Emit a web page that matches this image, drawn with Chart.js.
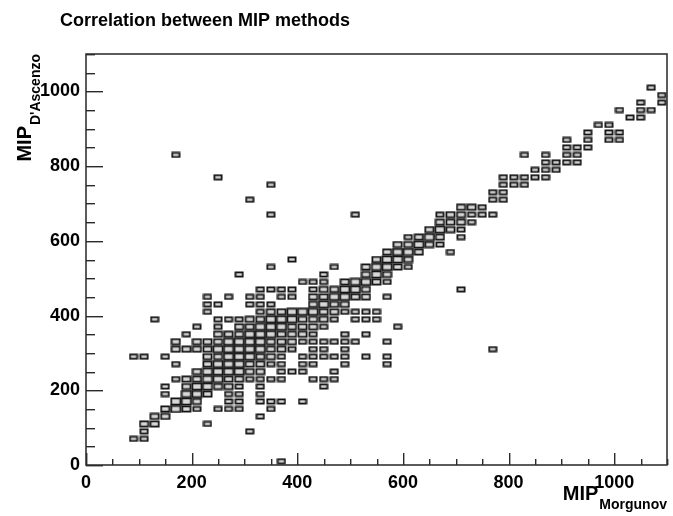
<!DOCTYPE html>
<html>
<head>
<meta charset="utf-8">
<script src="https://cdn.jsdelivr.net/npm/chart.js@4.4.1/dist/chart.umd.min.js"></script>
<style>
  html, body { margin: 0; padding: 0; background: #ffffff; }
  canvas { display: block; }
</style>
</head>
<body>
<canvas id="c" width="673" height="516"></canvas>
<script>
// ---- Data: 2D histogram bins (bin centres, 20 x 20 bins) and box weight ----
const titleText = 'Correlation between MIP methods';
const xTickLabels = [0, 200, 400, 600, 800, 1000];
const yTickLabels = [0, 200, 400, 600, 800, 1000];

const binX = [
  370,
  90, 110,
  110, 310,
  110, 130, 230,
  130, 150, 330,
  150, 170, 190, 210, 250, 270, 290, 350,
  170, 190, 210, 270, 290, 330, 350, 370, 410,
  150, 190, 210, 230, 270, 290, 330,
  150, 190, 210, 230, 250, 270, 290, 330, 450,
  170, 190, 210, 230, 250, 270, 290, 310, 330, 350, 370, 430, 450, 470,
  210, 230, 250, 270, 290, 310, 330, 370, 390, 410, 470,
  170, 230, 250, 270, 290, 310, 330, 350, 370, 410, 430, 490, 570,
  90, 110, 150, 230, 250, 270, 290, 310, 330, 350, 370, 410, 430, 450, 470, 490, 530, 570,
  170, 190, 210, 230, 250, 270, 290, 310, 330, 350, 370, 390, 430, 450, 490, 770,
  170, 210, 230, 250, 270, 290, 310, 330, 350, 370, 390, 410, 430, 450, 470, 490, 510, 570,
  190, 250, 270, 290, 310, 330, 350, 370, 390, 410, 430, 490, 530,
  210, 250, 290, 310, 330, 350, 370, 390, 410, 430, 450, 590,
  130, 250, 270, 290, 310, 330, 350, 370, 390, 410, 430, 450, 470, 510, 530, 550,
  230, 330, 350, 370, 390, 410, 430, 450, 470, 490, 510, 530, 550,
  230, 250, 310, 330, 350, 430, 450, 470, 490,
  230, 270, 310, 330, 370, 390, 430, 450, 470, 490, 510, 530, 570,
  330, 350, 370, 390, 430, 450, 470, 490, 510, 530, 710,
  410, 430, 450, 490, 510, 530, 550, 570,
  290, 450, 530, 550, 570,
  350, 470, 530, 550, 570, 590, 610,
  390, 550, 570, 590, 610,
  570, 590, 610, 630, 690,
  590, 610, 630, 650, 670,
  610, 630, 650, 670, 710,
  650, 670, 690, 710,
  670, 690, 710, 730,
  350, 510, 670, 690, 710, 730, 750, 770,
  710, 730, 750,
  310, 770, 790,
  770, 790,
  350, 790, 810, 830,
  250, 790, 810, 830, 850, 870,
  850, 870, 890,
  870, 890, 910, 930,
  170, 830, 870, 910, 930,
  910, 930, 950,
  910, 950, 990, 1010,
  950, 990, 1010,
  970, 990,
  1030, 1050,
  1010, 1050, 1070,
  1050, 1090,
  1090,
  1070
];

const binY = [
  10,
  70, 70,
  90, 90,
  110, 110, 110,
  130, 130, 130,
  150, 150, 150, 150, 150, 150, 150, 150,
  170, 170, 170, 170, 170, 170, 170, 170, 170,
  190, 190, 190, 190, 190, 190, 190,
  210, 210, 210, 210, 210, 210, 210, 210, 210,
  230, 230, 230, 230, 230, 230, 230, 230, 230, 230, 230, 230, 230, 230,
  250, 250, 250, 250, 250, 250, 250, 250, 250, 250, 250,
  270, 270, 270, 270, 270, 270, 270, 270, 270, 270, 270, 270, 270,
  290, 290, 290, 290, 290, 290, 290, 290, 290, 290, 290, 290, 290, 290, 290, 290, 290, 290,
  310, 310, 310, 310, 310, 310, 310, 310, 310, 310, 310, 310, 310, 310, 310, 310,
  330, 330, 330, 330, 330, 330, 330, 330, 330, 330, 330, 330, 330, 330, 330, 330, 330, 330,
  350, 350, 350, 350, 350, 350, 350, 350, 350, 350, 350, 350, 350,
  370, 370, 370, 370, 370, 370, 370, 370, 370, 370, 370, 370,
  390, 390, 390, 390, 390, 390, 390, 390, 390, 390, 390, 390, 390, 390, 390, 390,
  410, 410, 410, 410, 410, 410, 410, 410, 410, 410, 410, 410, 410,
  430, 430, 430, 430, 430, 430, 430, 430, 430,
  450, 450, 450, 450, 450, 450, 450, 450, 450, 450, 450, 450, 450,
  470, 470, 470, 470, 470, 470, 470, 470, 470, 470, 470,
  490, 490, 490, 490, 490, 490, 490, 490,
  510, 510, 510, 510, 510,
  530, 530, 530, 530, 530, 530, 530,
  550, 550, 550, 550, 550,
  570, 570, 570, 570, 570,
  590, 590, 590, 590, 590,
  610, 610, 610, 610, 610,
  630, 630, 630, 630,
  650, 650, 650, 650,
  670, 670, 670, 670, 670, 670, 670, 670,
  690, 690, 690,
  710, 710, 710,
  730, 730,
  750, 750, 750, 750,
  770, 770, 770, 770, 770, 770,
  790, 790, 790,
  810, 810, 810, 810,
  830, 830, 830, 830, 830,
  850, 850, 850,
  870, 870, 870, 870,
  890, 890, 890,
  910, 910,
  930, 930,
  950, 950, 950,
  970, 970,
  990,
  1010
];

const binCount = [
  1,
  1, 1,
  1, 1,
  2, 2, 1,
  2, 2, 1,
  2, 3, 2, 1, 1, 1, 1, 1,
  3, 3, 2, 1, 1, 1, 1, 1, 1,
  1, 3, 3, 2, 1, 1, 1,
  1, 2, 3, 3, 2, 2, 1, 1, 1,
  1, 2, 2, 3, 3, 2, 2, 1, 1, 1, 1, 1, 1, 1,
  2, 3, 3, 3, 3, 2, 2, 1, 1, 1, 1,
  1, 2, 3, 3, 3, 2, 2, 1, 1, 1, 1, 1, 1,
  1, 1, 1, 2, 2, 3, 3, 3, 2, 2, 1, 1, 1, 1, 1, 1, 1, 1,
  2, 2, 2, 2, 3, 3, 3, 3, 3, 2, 2, 1, 1, 1, 1, 1,
  2, 2, 2, 2, 3, 3, 3, 3, 2, 2, 2, 1, 1, 1, 1, 1, 1, 1,
  1, 2, 2, 2, 3, 3, 3, 2, 2, 2, 1, 1, 1,
  1, 1, 2, 2, 3, 3, 3, 2, 2, 2, 1, 1,
  1, 1, 1, 1, 2, 2, 3, 3, 3, 2, 2, 2, 1, 1, 1, 1,
  1, 1, 2, 2, 3, 3, 3, 2, 2, 1, 1, 1, 1,
  1, 1, 1, 1, 1, 2, 3, 2, 2,
  1, 1, 1, 1, 1, 1, 2, 2, 3, 3, 2, 2, 1,
  1, 1, 1, 1, 1, 2, 2, 3, 3, 2, 1,
  1, 1, 1, 2, 3, 3, 2, 1,
  1, 1, 2, 3, 2,
  1, 1, 2, 3, 3, 2, 1,
  1, 2, 3, 3, 2,
  2, 3, 3, 2, 1,
  2, 2, 3, 2, 1,
  1, 2, 3, 2, 1,
  2, 3, 2, 1,
  2, 2, 2, 1,
  1, 1, 1, 2, 2, 1, 1, 1,
  2, 2, 1,
  1, 1, 1,
  1, 1,
  1, 1, 1, 1,
  1, 1, 1, 1, 1, 1,
  1, 1, 1,
  1, 1, 1, 1,
  1, 1, 1, 1, 1,
  1, 1, 1,
  1, 1, 1, 1,
  1, 1, 1,
  1, 1,
  1, 1,
  1, 1, 1,
  1, 1,
  1,
  1
];

// ---- Styles ----
const FONT = '"Liberation Sans", Arial, Helvetica, sans-serif';
const boxSizes = { 1: [10, 7], 2: [11, 8], 3: [12, 9] };
function makeBox(w, h) {
  const cv = document.createElement('canvas');
  cv.width = w; cv.height = h;
  const g = cv.getContext('2d');
  g.fillStyle = '#d8d8d8';
  g.fillRect(1, 1, w - 2, h - 2);
  g.strokeStyle = '#141414';
  g.lineWidth = 1.8;
  g.strokeRect(1.4, 1.4, w - 2.8, h - 2.8);
  return cv;
}
const boxImgs = {};
Object.keys(boxSizes).forEach(k => { boxImgs[k] = makeBox(boxSizes[k][0], boxSizes[k][1]); });

const points = binX.map((x, i) => ({ x: x, y: binY[i], n: binCount[i] }));

const framePlugin = {
  id: 'rootFrame',
  afterDraw(chart) {
    const { ctx, chartArea: a, scales } = chart;
    ctx.save();
    // frame
    ctx.strokeStyle = '#333333';
    ctx.lineWidth = 1.6;
    ctx.strokeRect(a.left, a.top, a.right - a.left, a.bottom - a.top);
    // inward ticks
    ctx.fillStyle = '#2a2a2a';
    const bottom = Math.round(a.bottom);
    const left = Math.round(a.left);
    for (let v = 0; v <= 1100; v += 50) {
      const px = Math.round(scales.x.getPixelForValue(v));
      const len = (v % 200 === 0) ? 12 : 6;
      ctx.fillRect(px, bottom - len, 1.4, len);
      const py = Math.round(scales.y.getPixelForValue(v));
      const lenY = (v % 200 === 0) ? 17 : 9;
      ctx.fillRect(left, py, lenY, 1.4);
    }
    ctx.restore();

    // Title
    ctx.save();
    ctx.fillStyle = '#000';
    ctx.textBaseline = 'alphabetic';
    ctx.textAlign = 'left';
    ctx.font = 'bold 18px ' + FONT;
    ctx.fillText(titleText, 60, 26);

    // X axis title  MIP_{Morgunov}
    const subX = 'Morgunov';
    ctx.font = 'bold 14px ' + FONT;
    const wSubX = ctx.measureText(subX).width;
    ctx.textAlign = 'right';
    ctx.fillText(subX, a.right, 509);
    ctx.font = 'bold 20px ' + FONT;
    ctx.fillText('MIP', a.right - wSubX - 1, 500);

    // Y axis title  MIP_{D'Ascenzo} rotated
    ctx.translate(31, a.top);
    ctx.rotate(-Math.PI / 2);
    ctx.textAlign = 'right';
    ctx.font = 'bold 14px ' + FONT;
    const subY = "D'Ascenzo";
    const wSubY = ctx.measureText(subY).width;
    ctx.fillText(subY, 0, 9);
    ctx.font = 'bold 20px ' + FONT;
    ctx.fillText('MIP', -wSubY - 1, 0);
    ctx.restore();
  }
};

new Chart(document.getElementById('c'), {
  type: 'scatter',
  data: {
    datasets: [{
      data: points,
      pointStyle: (ctx) => boxImgs[ctx.raw ? ctx.raw.n : 1],
      pointRadius: 5,
      pointHoverRadius: 5
    }]
  },
  options: {
    responsive: false,
    animation: false,
    devicePixelRatio: 1,
    events: [],
    layout: { padding: { top: 54, right: 2, left: 0, bottom: 0 } },
    plugins: { legend: { display: false }, tooltip: { enabled: false }, title: { display: false } },
    scales: {
      x: {
        type: 'linear', min: 0, max: 1100,
        grid: { display: false, drawTicks: false },
        border: { display: false },
        afterBuildTicks: (s) => { s.ticks = xTickLabels.map(v => ({ value: v })); },
        afterFit: (s) => { s.height = 51; s.paddingLeft = 0; s.paddingRight = 0; },
        ticks: { color: '#000', font: { family: FONT, size: 18, weight: 'bold' }, padding: 7, maxRotation: 0, autoSkip: false, callback: (v) => String(v) }
      },
      y: {
        type: 'linear', min: 0, max: 1100,
        grid: { display: false, drawTicks: false },
        border: { display: false },
        afterBuildTicks: (s) => { s.ticks = yTickLabels.map(v => ({ value: v })); },
        afterFit: (s) => { s.width = 86; s.paddingTop = 0; s.paddingBottom = 0; },
        ticks: { color: '#000', font: { family: FONT, size: 18, weight: 'bold' }, padding: 6, autoSkip: false, callback: (v) => String(v) }
      }
    }
  },
  plugins: [framePlugin]
});
</script>
</body>
</html>
